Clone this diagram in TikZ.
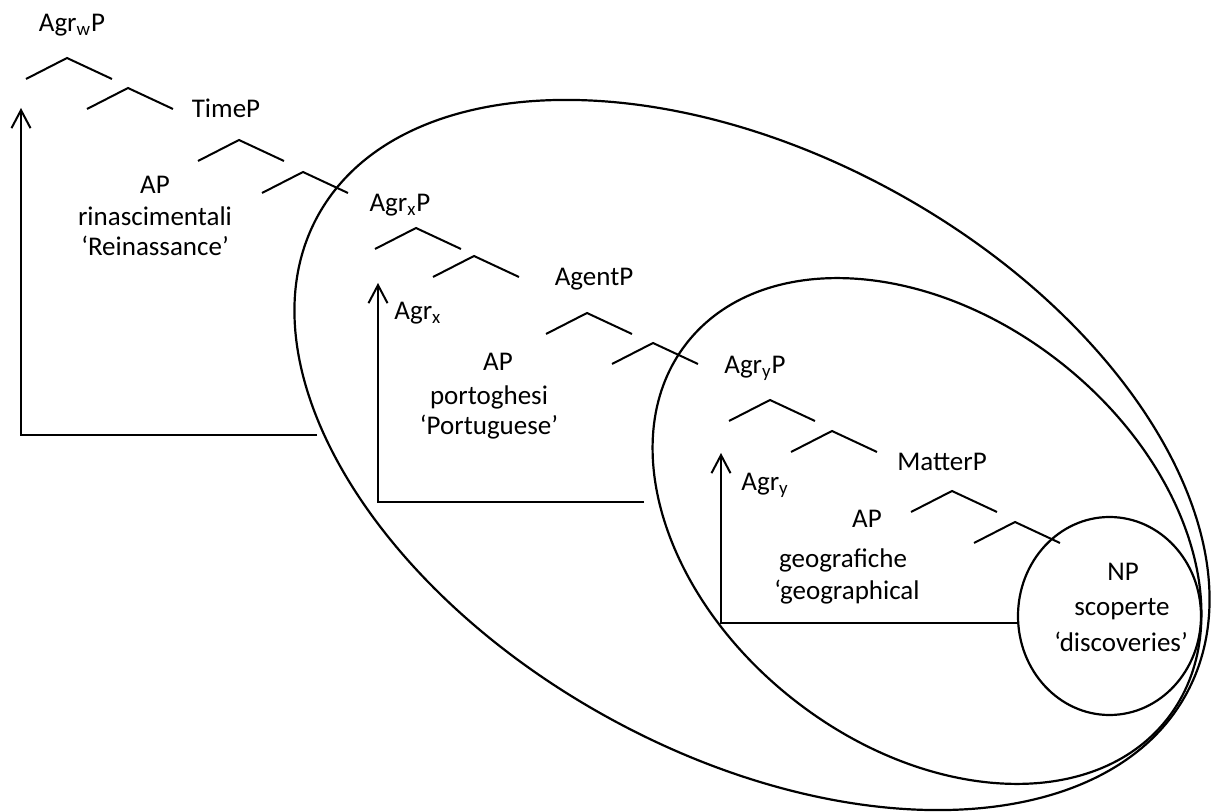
\documentclass[tikz,border=0pt]{standalone}
\usepackage{fontspec}
\setmainfont{Carlito}
\usetikzlibrary{arrows.meta}
\tikzset{
  lbl/.style={font=\fontsize{13.5}{16}\selectfont, inner sep=0pt, anchor=mid, yshift=-2.25pt},
  lblw/.style={lbl, anchor=mid west},
  branch/.style={line width=1pt},
  move/.style={line width=1pt, -{Straight Barb[length=9pt,width=9.5pt]}},
  bound/.style={line width=1.1pt},
  hat/.pic={\draw[branch] (-41,21) -- (0,0) -- (45,21);}
}
\begin{document}
\begin{tikzpicture}[x=0.5pt, y=-0.5pt]
\useasboundingbox (0,0) rectangle (1211,812);

% enclosing ellipses and circle
\draw[bound, shift={(752,455)}, rotate=-28.9] (0,0) ellipse [x radius=495.7, y radius=299.4];
\draw[bound, shift={(927,531)}, rotate=-38] (0,0) ellipse [x radius=305, y radius=215];
\draw[bound] (1109.5,616) ellipse [x radius=91.5, y radius=99];

% labels
\node[lbl] (agrwp) at (72,22) {Agr\textsubscript{w}P};
\node[lbl] (timep) at (226,108) {TimeP};
\node[lbl] (ap1) at (155,184) {AP};
\node[lbl] (ap1a) at (155,216) {rinascimentali};
\node[lbl] (ap1b) at (155,246) {‘Reinassance’};
\node[lbl] (agrxp) at (400,202) {Agr\textsubscript{x}P};
\node[lbl] (agentp) at (594,276) {AgentP};
\node[lblw] (agrx) at (394,310) {Agr\textsubscript{x}};
\node[lbl] (ap2) at (498,361) {AP};
\node[lbl] (ap2a) at (489,395) {portoghesi};
\node[lbl] (ap2b) at (489,425) {‘Portuguese’};
\node[lbl] (agryp) at (755,364) {Agr\textsubscript{y}P};
\node[lbl] (matterp) at (942,461) {MatterP};
\node[lblw] (agry) at (741,481) {Agr\textsubscript{y}};
\node[lbl] (ap3) at (867,518) {AP};
\node[lbl] (ap3a) at (843,558) {geografiche};
\node[lbl] (ap3b) at (847,590) {‘geographical};
\node[lbl] (np) at (1123,571) {NP};
\node[lbl] (npa) at (1122,606) {scoperte};
\node[lbl] (npb) at (1121,642) {‘discoveries’};

% branching hats
\pic at (67,58) {hat};
\pic at (128,88) {hat};
\pic at (239,140) {hat};
\pic at (303,172) {hat};
\pic at (416,228) {hat};
\pic at (474,256) {hat};
\pic at (587,313) {hat};
\pic at (653,343) {hat};
\pic at (770,400) {hat};
\pic at (832,431) {hat};
\pic at (952,491) {hat};
\pic at (1015,522) {hat};

% movement arrows
\coordinate (m1top) at (21,108);
\coordinate (m1corner) at (21,435);
\coordinate (m1end) at (317,435);
\coordinate (m2top) at (378,283);
\coordinate (m2corner) at (378,502);
\coordinate (m2end) at (644,502);
\coordinate (m3top) at (721,453);
\coordinate (m3corner) at (721,623);
\coordinate (m3end) at (1018,623);
\draw[move] (m1end) -- (m1corner) -- (m1top);
\draw[move] (m2end) -- (m2corner) -- (m2top);
\draw[move] (m3end) -- (m3corner) -- (m3top);
\end{tikzpicture}
\end{document}
